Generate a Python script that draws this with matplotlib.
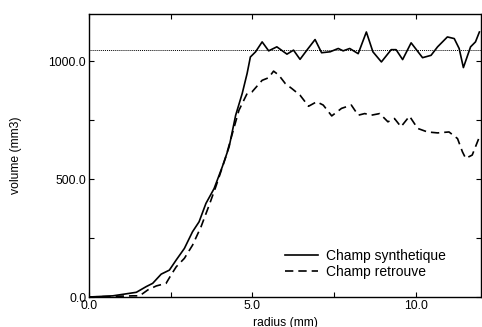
import numpy as np
import matplotlib.pyplot as plt

# data
r_synth = [0.0, 0.73, 1.45, 1.75, 1.95, 2.21, 2.46, 2.67, 2.92, 3.17, 3.37, 3.58, 3.83,
           4.08, 4.29, 4.49, 4.69, 4.84, 4.94, 5.10, 5.30, 5.50, 5.75, 6.06, 6.26, 6.46,
           6.67, 6.92, 7.12, 7.38, 7.63, 7.78, 7.98, 8.24, 8.49, 8.69, 8.95, 9.25, 9.40,
           9.60, 9.86, 10.21, 10.47, 10.67, 10.97, 11.18, 11.33, 11.46, 11.68, 11.83, 11.95]
v_synth = [0, 5, 20, 44, 58, 97, 114, 157, 206, 277, 319, 397, 460,
           552, 637, 771, 863, 948, 1018, 1040, 1082, 1044, 1061, 1030, 1047, 1008,
           1047, 1092, 1036, 1040, 1054, 1044, 1054, 1032, 1124, 1040, 997, 1049, 1049,
           1007, 1078, 1015, 1025, 1061, 1103, 1096, 1054, 973, 1061, 1082, 1124]

r_retr = [0.0, 1.35, 1.55, 1.80, 2.06, 2.36, 2.51, 2.67, 2.92, 3.17, 3.43, 3.68, 3.88,
          4.19, 4.39, 4.59, 4.84, 4.99, 5.30, 5.50, 5.65, 5.81, 6.01, 6.21, 6.46, 6.72,
          6.97, 7.17, 7.43, 7.73, 8.03, 8.24, 8.44, 8.64, 8.90, 9.15, 9.35, 9.55, 9.81,
          10.06, 10.36, 10.67, 11.02, 11.28, 11.43, 11.53, 11.73, 11.95]
v_retr = [0, 5, 5, 30, 47, 58, 93, 128, 164, 220, 298, 390, 467,
          595, 694, 792, 863, 870, 919, 930, 958, 941, 905, 884, 856, 809,
          828, 814, 768, 800, 814, 771, 778, 771, 778, 743, 757, 722, 767,
          715, 700, 696, 700, 672, 616, 588, 602, 679]

v_ref = 1047

plt.rcParams['font.family'] = ['Liberation Sans', 'DejaVu Sans']

fig = plt.figure(figsize=(4.82, 3.27), dpi=100)
ax = fig.add_axes([0.1846, 0.0917, 0.8134, 0.8653])

ax.plot(r_synth, v_synth, color='black', lw=1.2, label='Champ synthetique')
ax.plot(r_retr, v_retr, color='black', lw=1.2, ls=(0, (5, 3)), label='Champ retrouve')
ax.axhline(v_ref, color='black', lw=0.7, ls=(0, (1, 1)))

ax.set_xlim(0, 12)
ax.set_ylim(0, 1200)
ax.set_xticks([0, 5, 10])
ax.set_xticklabels(['0.0', '5.0', '10.0'])
ax.set_xticks([2.5, 7.5], minor=True)
ax.set_yticks([0, 500, 1000])
ax.set_yticklabels(['0.0', '500.0', '1000.0'])
ax.set_yticks([250, 750], minor=True)
ax.tick_params(which='both', direction='in', top=True, right=True, labelsize=8.7,
               length=3.5, width=0.8, pad=2)
for s in ax.spines.values():
    s.set_linewidth(1.0)

ax.set_xlabel('radius (mm)', fontsize=8.7, labelpad=4)
ax.set_ylabel('volume (mm3)', fontsize=8.7, labelpad=19)

ax.legend(loc='lower right', bbox_to_anchor=(0.925, 0.045), frameon=False, fontsize=10,
          handlelength=2.4, labelspacing=0.1, handletextpad=0.6, borderaxespad=0)

fig.savefig('out.png', dpi=100)
